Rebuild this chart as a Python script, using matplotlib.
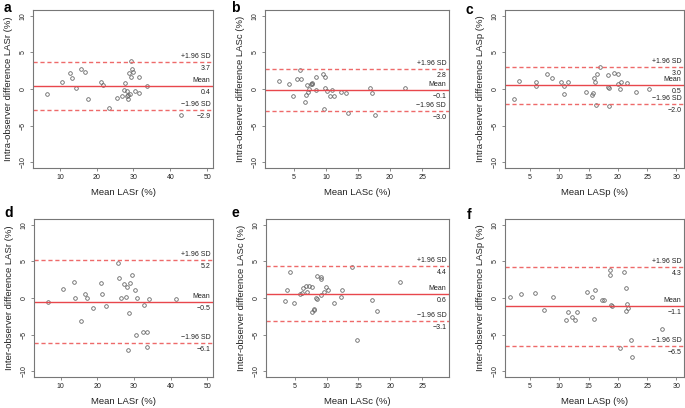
import matplotlib
matplotlib.use("Agg")
import matplotlib.pyplot as plt
import numpy as np

plt.rcParams['font.family'] = ['Liberation Sans', 'DejaVu Sans']

# ---- data ----
a_x = [6.5, 10.5, 12.8, 13.3, 14.5, 15.7, 16.9, 17.7, 21.3, 21.6, 23.3, 25.6, 26.8, 27.3, 27.7,
       28.3, 28.3, 28.4, 28.6, 29.1, 28.9, 29.4, 29.5, 29.4, 29.8, 30.5, 31.4, 31.6, 33.8, 43.0]
a_y = [-0.7, 1.0, 2.2, 1.5, 0.1, 2.8, 2.3, -1.4, 1.0, 0.6, -2.6, -1.2, -0.9, -0.1, 0.8,
       -0.3, -1.0, -1.4, -0.8, -0.7, 2.2, 3.8, 2.7, 1.6, 2.3, -0.3, 1.7, -0.5, 0.4, -3.6]
a_stats = [0.4, 3.7, -2.9]

b_x = [2.7, 4.2, 4.8, 5.5, 6.0, 6.1, 6.8, 6.9, 7.1, 7.2, 7.3, 7.6, 7.8, 7.9, 8.4, 8.5,
       9.5, 9.7, 9.9, 9.9, 10.1, 10.7, 11.0, 11.2, 12.4, 13.2, 13.4, 16.9, 17.2, 17.7, 22.4]
b_y = [1.1, 0.7, -1.0, 1.4, 2.6, 1.4, -1.8, -0.8, 0.6, -0.4, 0.0, 0.7, 0.8, 0.7, 1.6, -0.1,
       2.0, -2.7, 1.7, 0.2, -0.3, -0.9, -0.2, -1.0, -0.4, -0.5, -3.3, 0.1, -0.5, -3.6, 0.1]
b_stats = [-0.1, 2.8, -3.0]

c_x = [2.3, 3.1, 6.0, 6.0, 7.9, 8.8, 10.3, 10.8, 10.8, 11.5, 14.6, 15.5, 15.8, 15.9, 16.1,
       16.3, 16.5, 16.9, 18.3, 18.4, 18.3, 18.4, 19.4, 20.0, 20.1, 20.3, 20.6, 21.6, 23.1, 25.3]
c_y = [-1.4, 1.1, 0.9, 0.4, 2.0, 1.5, 1.0, 0.4, -0.7, 0.95, -0.45, -0.8, -0.6, 1.5, 0.9,
       -2.2, 2.1, 3.0, 0.3, 0.2, 1.9, -2.35, 2.2, 2.0, 0.7, 0.0, 0.9, 0.8, -0.4, 0.0]
c_stats = [0.5, 3.0, -2.0]

d_x = [6.5, 10.5, 13.5, 14.0, 15.5, 16.7, 17.3, 18.9, 20.9, 21.4, 22.5, 25.7, 25.9, 26.4, 27.4,
       27.7, 28.0, 28.6, 28.5, 29.0, 29.6, 30.3, 30.7, 30.9, 32.5, 32.7, 33.7, 33.6, 34.2, 41.4]
d_y = [-0.5, 1.2, 2.2, -0.05, -3.1, 0.6, -0.05, -1.4, 2.1, 0.6, -1.1, 4.8, 2.7, 0.05, 1.9,
       0.1, 1.5, -2.1, -7.1, 2.0, 3.1, 1.1, -5.1, -0.05, -4.7, -0.9, -4.7, -6.7, -0.2, -0.2]
d_stats = [-0.5, 5.2, -6.1]

e_x = [3.5, 3.75, 4.2, 4.95, 5.9, 6.2, 6.3, 6.7, 7.0, 7.2, 7.65, 7.75, 7.95, 8.1, 8.3, 8.5,
       8.5, 9.05, 9.2, 9.2, 9.6, 9.95, 10.3, 11.1, 12.2, 12.4, 14.0, 14.75, 17.1, 17.9, 21.5]
e_y = [-0.45, 1.05, 3.6, -0.7, 0.5, 0.7, 1.35, 1.6, 0.8, 1.7, 1.55, -1.9, -1.65, -1.45, -0.05, -0.15,
       3.0, 2.6, 2.9, 0.35, 0.8, 1.55, 1.05, -0.7, 0.1, 1.15, 4.2, -5.8, -0.25, -1.75, 2.2]
e_stats = [0.6, 4.4, -3.1]

f_x = [1.5, 3.5, 5.9, 8.9, 7.4, 11.2, 11.5, 12.2, 12.7, 12.95, 14.8, 15.6, 16.0, 15.9, 17.3,
       17.7, 18.6, 18.7, 18.9, 19.05, 20.3, 21.1, 21.3, 21.3, 21.5, 21.8, 22.3, 22.4, 27.5]
f_y = [0.2, 0.55, 0.7, 0.1, -1.65, -3.05, -1.9, -2.6, -3.05, -1.85, 0.8, 0.1, 1.1, -2.85, -0.3,
       -0.3, 3.85, 3.15, -0.9, -1.05, -6.8, 3.6, 1.3, -1.8, -0.85, -1.35, -5.75, -8.0, -4.25]
f_stats = [-1.1, 4.3, -6.5]

letters = ['a', 'b', 'c', 'd', 'e', 'f']
ylabels = ['Intra-observer difference LASr (%)', 'Intra-observer difference LASc (%)',
           'Intra-observer difference LASp (%)', 'Inter-observer difference LASr (%)',
           'Inter-observer difference LASc (%)', 'Inter-observer difference LASp (%)']
xlabels = ['Mean LASr (%)', 'Mean LASc (%)', 'Mean LASp (%)',
           'Mean LASr (%)', 'Mean LASc (%)', 'Mean LASp (%)']
xticks_r = [10, 20, 30, 40, 50]
xticks_c = [5, 10, 15, 20, 25]
xticks_p = [5, 10, 15, 20, 25, 30]
yticks = [-10, -5, 0, 5, 10]

xs = [a_x, b_x, c_x, d_x, e_x, f_x]
ys = [a_y, b_y, c_y, d_y, e_y, f_y]
stats = [a_stats, b_stats, c_stats, d_stats, e_stats, f_stats]
xt = [xticks_r, xticks_c, xticks_p, xticks_r, xticks_c, xticks_p]
xl = [(2.7, 51.6), (0.5, 29.2), (0.7, 31.3), (2.7, 51.6), (0.5, 29.2), (0.7, 31.3)]

W, H = 685, 408
fig = plt.figure(figsize=(W / 100, H / 100), dpi=100)

# axes boxes in pixels: (left, top, right, bottom)
boxes = [(33, 10, 213, 168), (265, 10, 449, 168), (505, 10, 684, 168),
         (34, 219, 213, 377), (266, 219, 449, 377), (505, 219, 684, 377)]
letter_pos = [(4, 1), (231, 1), (466, 3), (4, 206), (231, 206), (467, 208)]

gray = '#777777'
red = '#e8474c'
red_d = '#ee6a6a'

for i in range(6):
    l, t, r, b = boxes[i]
    ax = fig.add_axes([l / W, 1 - b / H, (r - l) / W, (b - t) / H])
    ax.plot(xs[i], ys[i], 'o', ms=2.6, mfc='none', mec='#666666', mew=0.6)
    m, up, lo = stats[i]
    ax.axhline(m, color=red, lw=1.0)
    ax.axhline(up, color=red_d, lw=1.0, ls=(0, (3, 2)))
    ax.axhline(lo, color=red_d, lw=1.0, ls=(0, (3, 2)))
    ax.set_xlim(*xl[i])
    ax.set_ylim(-10.8, 10.8)
    ax.set_xticks(xt[i])
    ax.set_yticks(yticks)
    ax.tick_params(labelsize=5, length=2.5, width=0.6, color=gray, pad=2, labelcolor='#222222')
    for lab in ax.get_yticklabels():
        lab.set_rotation(90)
        lab.set_va('center')
    for sp in ax.spines.values():
        sp.set_color(gray)
        sp.set_linewidth(0.8)
    ax.set_xlabel(xlabels[i], fontsize=6.8, labelpad=5, color='#222222')
    ax.set_ylabel(ylabels[i], fontsize=6.8, labelpad=5, color='#222222')
    xr = xl[i][1] - (xl[i][1] - xl[i][0]) * 0.015
    fs = 5
    for val, name in [(up, '+1.96 SD'), (m, 'Mean'), (lo, '\u22121.96 SD')]:
        ax.annotate(name, (xr, val), xytext=(0, 1.4), textcoords='offset points',
                    ha='right', va='bottom', fontsize=fs, color='#222222')
        ax.annotate(f'{val:.1f}'.replace('-', '\u2212'), (xr, val), xytext=(0, -2.2),
                    textcoords='offset points', ha='right', va='top', fontsize=fs, color='#222222')
    lx, ly = letter_pos[i]
    fig.text(lx / W, 1 - ly / H, letters[i], fontsize=10, fontweight='bold', va='top', ha='left')

fig.savefig('out.png', dpi=100)
